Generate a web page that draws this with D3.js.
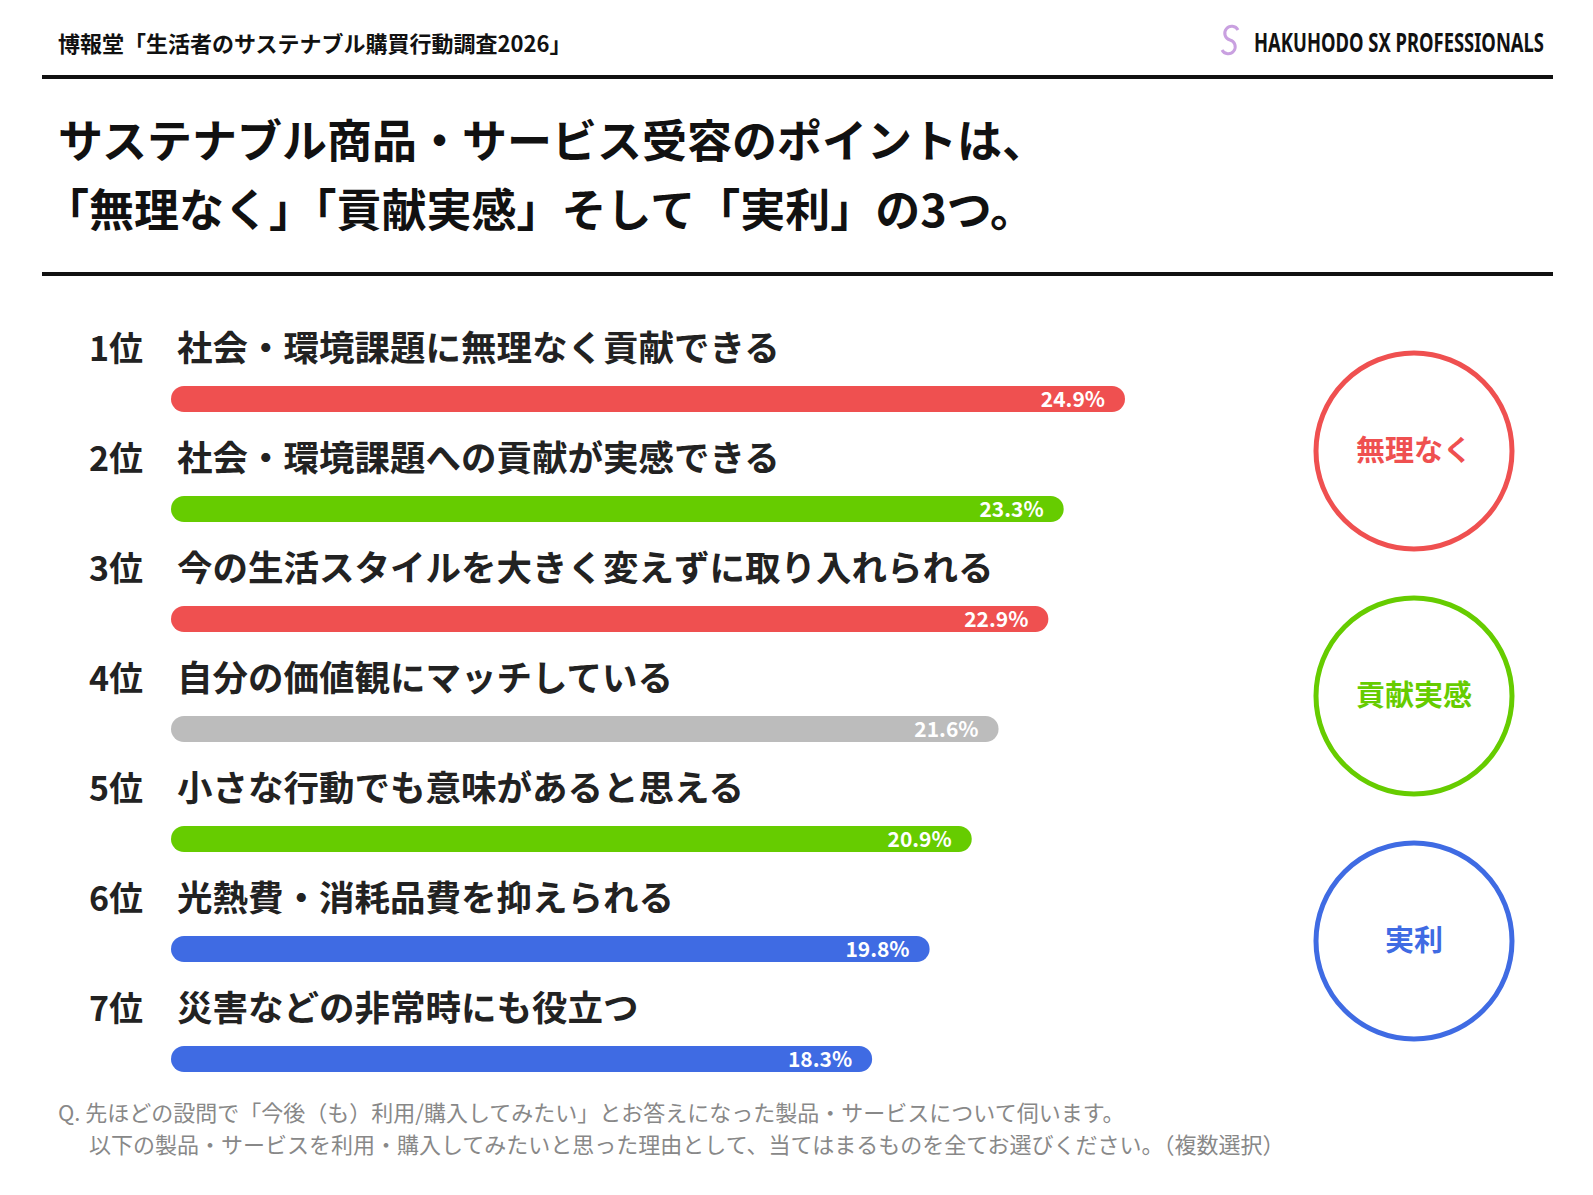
<!DOCTYPE html>
<html><head><meta charset="utf-8">
<script src="https://cdn.jsdelivr.net/npm/d3@7"></script>
<style>body{margin:0;background:#fff}svg{display:block;font-family:"Noto Sans CJK JP","Noto Sans",sans-serif}</style>
</head><body><svg id="c" width="1593" height="1195"></svg>
<script>
const ranks=["1位","2位","3位","4位","5位","6位","7位"];
const labels=["社会・環境課題に無理なく貢献できる","社会・環境課題への貢献が実感できる","今の生活スタイルを大きく変えずに取り入れられる","自分の価値観にマッチしている","小さな行動でも意味があると思える","光熱費・消耗品費を抑えられる","災害などの非常時にも役立つ"];
const values=[24.9,23.3,22.9,21.6,20.9,19.8,18.3];
const groups=["muri","koken","muri","none","koken","jitsuri","jitsuri"];
const circleLabels=["無理なく","貢献実感","実利"];
const circleKeys=["muri","koken","jitsuri"];
const colors={muri:"#ef5050",koken:"#66cc00",none:"#bcbcbc",jitsuri:"#3f6be3"};

const svg=d3.select("#c");
const x=d3.scaleLinear().domain([0,24.9]).range([171,1125]);
const y=d3.scaleBand().domain(d3.range(7)).range([344,1114]).paddingInner(0);
const T=(s)=>svg.append("text").text(s);

T("博報堂「生活者のサステナブル購買行動調査2026」").attr("x",58).attr("y",52).attr("font-size",22).attr("font-weight",700).attr("fill","#111");
svg.append("g").attr("transform","translate(1254,52) scale(1,1.4)")
 .append("text").text("HAKUHODO SX PROFESSIONALS").attr("x",0).attr("y",0).attr("font-size",19).attr("font-weight",700).attr("font-family","'Noto Sans',sans-serif").attr("textLength",290).attr("lengthAdjust","spacingAndGlyphs").attr("fill","#111");
svg.append("path").attr("d","M1238 30 a7 7 0 1 0 -8 10 a7 7 0 1 1 -8 10").attr("fill","none").attr("stroke","#c9a0e0").attr("stroke-width",3);
[77,274].forEach(v=>svg.append("rect").attr("x",42).attr("y",v-2).attr("width",1511).attr("height",4).attr("fill","#111"));
T("サステナブル商品・サービス受容のポイントは、").attr("x",58).attr("y",158).attr("font-size",45).attr("font-weight",700).attr("fill","#111");
T("「無理なく」「貢献実感」そして「実利」の3つ。").attr("x",44).attr("y",227).attr("font-size",45).attr("font-weight",700).attr("fill","#111");

const g=svg.selectAll("g.row").data(values).join("g");
g.append("text").text((d,i)=>ranks[i]).attr("x",89).attr("y",(d,i)=>y(i)+17).attr("font-size",34).attr("font-weight",700).attr("fill","#222");
g.append("text").text((d,i)=>labels[i]).attr("x",177).attr("y",(d,i)=>y(i)+17).attr("font-size",35.5).attr("font-weight",700).attr("fill","#222");
g.append("rect").attr("x",x(0)).attr("y",(d,i)=>y(i)+42).attr("height",26).attr("rx",13).attr("width",d=>x(d)-x(0)).attr("fill",(d,i)=>colors[groups[i]]);
g.append("text").text(d=>d.toFixed(1)+"%").attr("x",d=>x(d)-20).attr("y",(d,i)=>y(i)+63).attr("text-anchor","end").attr("font-size",21).attr("font-weight",700).attr("fill","#fff");

const cy=[451,696,941];
circleKeys.forEach((k,i)=>{
 svg.append("circle").attr("cx",1414).attr("cy",cy[i]).attr("r",98).attr("fill","none").attr("stroke",colors[k]).attr("stroke-width",5);
 svg.append("text").text(circleLabels[i]).attr("x",1414).attr("y",cy[i]+10).attr("text-anchor","middle").attr("font-size",29).attr("font-weight",700).attr("fill",colors[k]);
});
T("Q. 先ほどの設問で「今後（も）利用/購入してみたい」とお答えになった製品・サービスについて伺います。").attr("x",58).attr("y",1121).attr("font-size",22).attr("fill","#888");
T("以下の製品・サービスを利用・購入してみたいと思った理由として、当てはまるものを全てお選びください。（複数選択）").attr("x",89).attr("y",1153).attr("font-size",22).attr("fill","#888");
</script></body></html>
